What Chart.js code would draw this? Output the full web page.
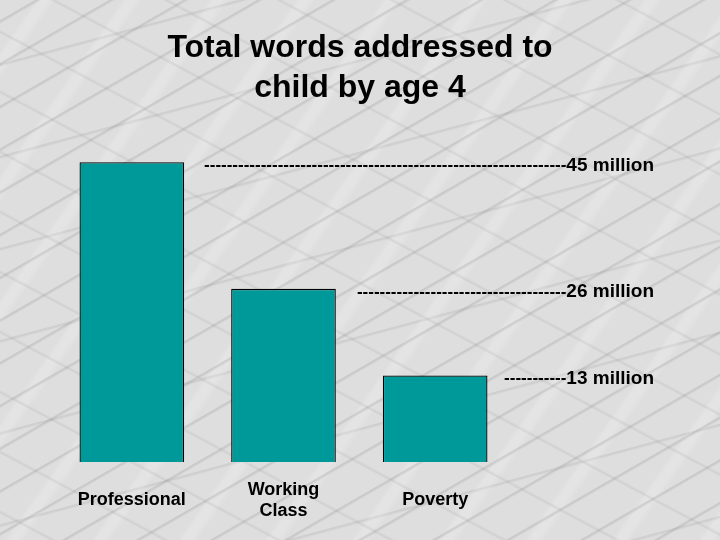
<!DOCTYPE html>
<html>
<head>
<meta charset="utf-8">
<script src="https://cdn.jsdelivr.net/npm/chart.js@4"></script>
<style>
  html, body { margin: 0; padding: 0; }
  body {
    width: 720px; height: 540px; overflow: hidden;
    background-color: #dedede;
    background-image:
      repeating-linear-gradient(150deg, rgba(130,130,130,0) 0 17px, rgba(130,130,130,0.22) 18px 19px, rgba(130,130,130,0) 21px 37px),
      repeating-linear-gradient(28deg, rgba(150,150,150,0) 0 23px, rgba(150,150,150,0.16) 24px 25px, rgba(150,150,150,0) 27px 53px),
      repeating-linear-gradient(125deg, rgba(255,255,255,0) 0 29px, rgba(255,255,255,0.18) 33px 40px, rgba(255,255,255,0) 46px 71px),
      repeating-linear-gradient(165deg, rgba(120,120,120,0) 0 61px, rgba(120,120,120,0.15) 62px 63px, rgba(120,120,120,0) 65px 89px);
  }
  #wrap { position: relative; width: 720px; height: 540px; }
</style>
</head>
<body>
<div id="wrap"><canvas id="chart" width="720" height="540"></canvas></div>
<script>
const categories = ["Professional", ["Working", "Class"], "Poverty"];
const words = [45, 26, 13];
const valueLabels = ["45 million", "26 million", "13 million"];
const titleLines = ["Total words addressed to", "child by age 4"];

const FONT = "Arial, 'Liberation Sans', sans-serif";

// dashed "-----45 million" labels at the top of each bar
const dashLabels = {
  id: "dashLabels",
  afterDatasetsDraw(chart) {
    const ctx = chart.ctx;
    const bars = chart.getDatasetMeta(0).data;
    ctx.save();
    ctx.fillStyle = "#000";
    ctx.textBaseline = "middle";
    const rightX = 654;
    bars.forEach((bar, i) => {
      const y = bar.y + 3;
      ctx.font = "bold 19px " + FONT;
      ctx.textAlign = "right";
      const txtW = ctx.measureText(valueLabels[i]).width;
      ctx.fillText(valueLabels[i], rightX, y);

      ctx.font = "bold 17px " + FONT;
      ctx.textAlign = "left";
      const startX = bar.x + bar.width / 2 + 16;
      const dashW = ctx.measureText("-").width;
      const n = Math.max(0, Math.floor((rightX - txtW - startX) / dashW));
      ctx.fillText("-".repeat(n), rightX - txtW - n * dashW, y);
    });
    ctx.restore();
  }
};

// invisible side axes, only used to reserve room on the left / right
const spacer = w => ({
  display: true,
  grid: { display: false },
  border: { display: false },
  ticks: { display: false },
  afterFit: s => { s.width = w; }
});

new Chart(document.getElementById("chart").getContext("2d"), {
  type: "bar",
  data: {
    labels: categories,
    datasets: [{
      data: words,
      backgroundColor: "#009999",
      borderColor: "#000",
      borderWidth: 1.3,
      barPercentage: 0.69,
      categoryPercentage: 1
    }]
  },
  options: {
    responsive: false,
    animation: false,
    layout: { padding: { left: 0, right: 0, top: 0, bottom: 12 } },
    plugins: {
      legend: { display: false },
      tooltip: { enabled: false },
      title: {
        display: true,
        text: titleLines,
        color: "#000",
        font: { family: FONT, size: 32, weight: "bold", lineHeight: 1.25 },
        padding: { top: 28, bottom: 21 }
      }
    },
    scales: {
      x: {
        grid: { display: false },
        border: { display: false },
        ticks: {
          color: "#000",
          padding: 20,
          crossAlign: "center",
          maxRotation: 0,
          font: { family: FONT, size: 18, weight: "bold", lineHeight: 1.17 }
        },
        afterFit: s => { s.height = 66; }
      },
      y: Object.assign(spacer(56), { position: "left", min: 0, max: 50 }),
      y2: Object.assign(spacer(209), { position: "right", min: 0, max: 50 })
    }
  },
  plugins: [dashLabels]
});
</script>
</body>
</html>
